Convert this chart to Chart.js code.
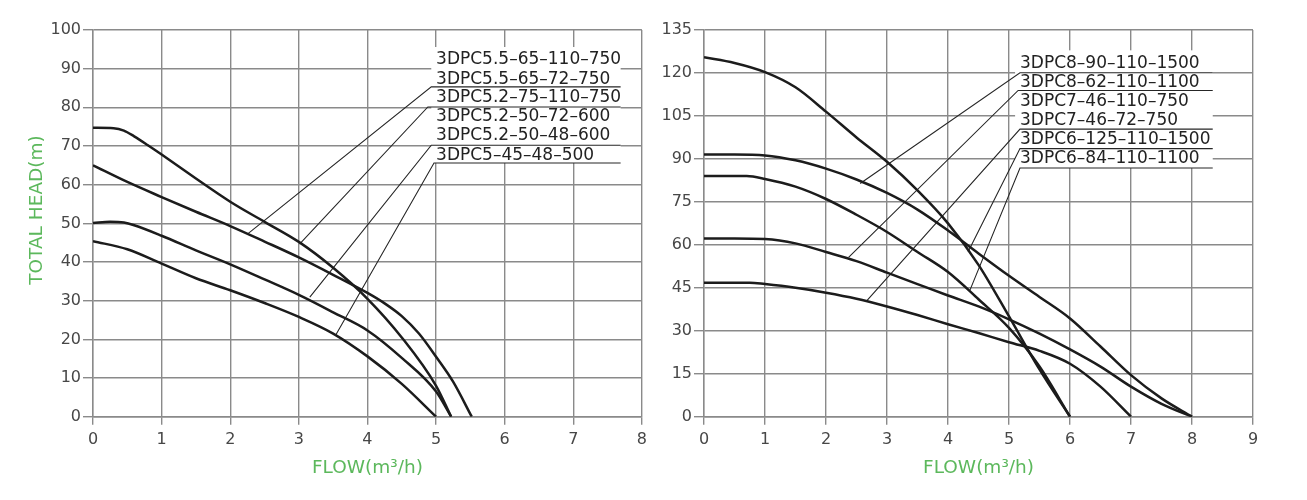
<!DOCTYPE html>
<html>
<head>
<meta charset="utf-8">
<script src="https://cdn.jsdelivr.net/npm/chart.js@4.4.1/dist/chart.umd.min.js"></script>
<style>
    html, body { margin: 0; padding: 0; background: #ffffff; }
    #wrap { position: relative; width: 1307px; height: 500px; }
    #wrap canvas { position: absolute; top: 0; }
    #left-chart { left: 0; }
    #right-chart { left: 653px; }
</style>
</head>
<body>
<div id="wrap">
    <canvas id="left-chart" width="653" height="500"></canvas>
    <canvas id="right-chart" width="654" height="500"></canvas>
</div>
<script>
// Pump performance curves, flow (m3/h) against total head (m)

// ---- left chart: 3DPC5 series ----
const leftFlowTicks = [0, 1, 2, 3, 4, 5, 6, 7, 8];
const leftHeadTicks = [0, 10, 20, 30, 40, 50, 60, 70, 80, 90, 100];

const flow75 = [0, 0.3, 0.45, 0.6, 0.8, 1, 1.5, 2, 2.5, 3, 3.5, 4, 4.5, 5, 5.22];
const head75 = [74.7, 74.6, 74, 72.5, 70.2, 67.8, 61.6, 55.6, 50.4, 45.2, 38.5, 30.5, 20.5, 8, 0];

const flow65 = [0, 0.5, 1, 1.5, 2, 2.5, 3, 3.5, 4, 4.25, 4.5, 4.75, 5, 5.25, 5.52];
const head65 = [65, 60.7, 56.8, 53, 49.3, 45.3, 41.2, 36.7, 32, 29.3, 26, 21.5, 15.5, 9, 0];

const flow50 = [0, 0.25, 0.45, 0.6, 1, 1.5, 2, 2.5, 3, 3.5, 4, 4.5, 5, 5.22];
const head50 = [50.1, 50.4, 50.2, 49.5, 46.8, 43, 39.4, 35.5, 31.5, 27, 22.3, 15.2, 6.5, 0];

const flow45 = [0, 0.5, 1, 1.5, 2, 2.5, 3, 3.5, 4, 4.5, 5];
const head45 = [45.4, 43.3, 39.6, 35.8, 32.7, 29.4, 25.8, 21.5, 15.6, 8.5, 0];

const leftModels = [
    '3DPC5.5–65–110–750',
    '3DPC5.5–65–72–750',
    '3DPC5.2–75–110–750',
    '3DPC5.2–50–72–600',
    '3DPC5.2–50–48–600',
    '3DPC5–45–48–500'
];

// ---- right chart: 3DPC6/7/8 series ----
const rightFlowTicks = [0, 1, 2, 3, 4, 5, 6, 7, 8, 9];
const rightHeadTicks = [0, 15, 30, 45, 60, 75, 90, 105, 120, 135];

const flow125 = [0, 0.5, 1, 1.5, 2, 2.5, 3, 3.5, 4, 4.5, 5, 5.5, 6];
const head125 = [125.5, 123.5, 120.3, 115, 106.5, 97.5, 89, 79, 67.5, 53, 35, 16.5, 0];

const flow91 = [0, 0.5, 1, 1.5, 2, 2.5, 3, 3.5, 4, 4.5, 5, 5.5, 6, 6.5, 7, 7.5, 8];
const head91 = [91.5, 91.5, 91.2, 89.5, 86.6, 82.8, 78.1, 72.3, 65, 57, 49.2, 41.8, 34.3, 24.5, 14.5, 6.4, 0];

const flow84 = [0, 0.7, 1, 1.5, 2, 2.5, 3, 3.5, 4, 4.5, 5, 5.5, 6];
const head84 = [84, 84, 83, 80.3, 76, 70.5, 64.5, 57.5, 50.5, 41, 31, 17.5, 0];

const flow62 = [0, 0.5, 1, 1.5, 2, 2.5, 3, 3.5, 4, 4.5, 5, 5.5, 6, 6.5, 7, 7.5, 8];
const head62 = [62.2, 62.2, 62, 60.5, 57.5, 54.3, 50.3, 46.3, 42.3, 38.5, 34, 29, 23.5, 17.5, 10.5, 4.5, 0];

const flow46 = [0, 0.75, 1, 1.5, 2, 2.5, 3, 3.5, 4, 4.5, 5, 5.5, 6, 6.5, 7];
const head46 = [46.8, 46.8, 46.3, 45, 43.3, 41.2, 38.5, 35.5, 32.3, 29.2, 26, 23, 18.5, 10.5, 0];

const rightModels = [
    '3DPC8–90–110–1500',
    '3DPC8–62–110–1100',
    '3DPC7–46–110–750',
    '3DPC7–46–72–750',
    '3DPC6–125–110–1500',
    '3DPC6–84–110–1100'
];

// callout layout, in axis units (label rows, white box, leader lines)
const leftCallout = {
    textX: 5.0,
    rows: [92.4, 87.3, 82.5, 77.5, 72.6, 67.6],
    box: { x0: 4.93, x1: 7.69, y0: 95.6, y1: 65.6 },
    lineEnd: 7.69,
    leaders: [
        { from: [4.93, 85.3], to: [2.25, 47.2] },
        { from: [4.88, 80.1], to: [3.01, 44.6] },
        { from: [4.93, 70.2], to: [3.16, 30.9] },
        { from: [4.97, 65.6], to: [3.54, 21.2] }
    ]
};

const rightCallout = {
    textX: 5.18,
    rows: [123.4, 116.7, 110.1, 103.5, 96.9, 90.2],
    box: { x0: 5.1, x1: 8.34, y0: 127.9, y1: 86.8 },
    lineEnd: 8.34,
    leaders: [
        { from: [5.18, 120.1], to: [2.56, 81.4] },
        { from: [5.15, 113.9], to: [2.37, 55.6] },
        { from: [5.18, 100.4], to: [2.67, 40.5] },
        { from: [5.18, 93.6], to: [4.33, 57.6] },
        { from: [5.18, 86.8], to: [4.36, 44.2] }
    ]
};

const GRID = '#8a8a8a';
const TICK_TEXT = '#474747';
const GREEN = '#5cb85c';

Chart.defaults.font.family = '"DejaVu Sans", sans-serif';

function curve(flow, head) {
    return {
        data: flow.map((x, i) => ({ x: x, y: head[i] })),
        borderColor: '#1c1c1c',
        borderWidth: 2.5,
        pointRadius: 0,
        tension: 0.4,
        cubicInterpolationMode: 'monotone',
        fill: false
    };
}

// leader line + underline as one thin polyline
function leader(item, lineEnd) {
    const pts = [item.to, item.from, [lineEnd, item.from[1]]];
    return {
        data: pts.map(p => ({ x: p[0], y: p[1] })),
        borderColor: '#262626',
        borderWidth: 1.1,
        pointRadius: 0,
        tension: 0,
        fill: false
    };
}

function calloutPlugin(callout, models, yTitle) {
    return {
        id: 'callouts',
        beforeDatasetsDraw(chart) {
            const { ctx, scales: { x, y } } = chart;
            const b = callout.box;
            const l = x.getPixelForValue(b.x0), r = x.getPixelForValue(b.x1);
            const t = y.getPixelForValue(b.y0), btm = y.getPixelForValue(b.y1);
            ctx.save();
            ctx.fillStyle = '#ffffff';
            ctx.fillRect(l, t, r - l, btm - t);
            ctx.restore();
        },
        afterDatasetsDraw(chart) {
            const { ctx, scales: { x, y } } = chart;
            ctx.save();
            ctx.font = '17px "DejaVu Sans"';
            ctx.fillStyle = '#222222';
            ctx.textAlign = 'left';
            ctx.textBaseline = 'middle';
            models.forEach((name, i) => {
                ctx.fillText(name, x.getPixelForValue(callout.textX), y.getPixelForValue(callout.rows[i]));
            });
            if (yTitle) {
                ctx.translate(37, 210);
                ctx.rotate(-Math.PI / 2);
                ctx.textAlign = 'center';
                ctx.font = '18.5px "DejaVu Sans"';
                ctx.fillStyle = GREEN;
                ctx.fillText(yTitle, 0, 0);
            }
            ctx.restore();
        }
    };
}

function makeChart(canvasId, cfg) {
    const datasets = cfg.curves.map(c => curve(c[0], c[1]))
        .concat(cfg.callout.leaders.map(item => leader(item, cfg.callout.lineEnd)));

    return new Chart(document.getElementById(canvasId), {
        type: 'line',
        data: { datasets: datasets },
        plugins: [calloutPlugin(cfg.callout, cfg.models, cfg.yTitle)],
        options: {
            responsive: false,
            animation: false,
            events: [],
            layout: { padding: { top: 30, right: cfg.padRight, bottom: 0, left: 0 } },
            plugins: {
                legend: { display: false },
                tooltip: { enabled: false }
            },
            scales: {
                x: {
                    type: 'linear',
                    min: cfg.xTicks[0],
                    max: cfg.xTicks[cfg.xTicks.length - 1],
                    afterBuildTicks: (scale) => { scale.ticks = cfg.xTicks.map(v => ({ value: v })); },
                    afterFit: (scale) => { scale.height = 83.3; },
                    grid: { color: GRID, lineWidth: 1.4, tickLength: 8, tickColor: GRID },
                    border: { color: GRID, width: 1.4 },
                    ticks: {
                        color: TICK_TEXT,
                        padding: 6,
                        maxRotation: 0,
                        font: { size: 16 }
                    },
                    title: {
                        display: true,
                        text: 'FLOW(m³/h)',
                        color: GREEN,
                        font: { size: 18.5 },
                        padding: { top: 0, bottom: 21 }
                    }
                },
                y: {
                    type: 'linear',
                    min: cfg.yTicks[0],
                    max: cfg.yTicks[cfg.yTicks.length - 1],
                    afterBuildTicks: (scale) => { scale.ticks = cfg.yTicks.map(v => ({ value: v })); },
                    afterFit: (scale) => { scale.width = cfg.yWidth; },
                    grid: { color: GRID, lineWidth: 1.4, tickLength: 10, tickColor: GRID },
                    border: { color: GRID, width: 1.4 },
                    ticks: {
                        color: TICK_TEXT,
                        padding: 2,
                        font: { size: 16 }
                    }
                }
            }
        }
    });
}

makeChart('left-chart', {
    curves: [[flow75, head75], [flow65, head65], [flow50, head50], [flow45, head45]],
    models: leftModels,
    callout: leftCallout,
    xTicks: leftFlowTicks,
    yTicks: leftHeadTicks,
    yWidth: 93,
    padRight: 10,
    yTitle: 'TOTAL HEAD(m)'
});

makeChart('right-chart', {
    curves: [[flow125, head125], [flow91, head91], [flow84, head84], [flow62, head62], [flow46, head46]],
    models: rightModels,
    callout: rightCallout,
    xTicks: rightFlowTicks,
    yTicks: rightHeadTicks,
    yWidth: 51,
    padRight: 54,
    yTitle: null
});
</script>
</body>
</html>
